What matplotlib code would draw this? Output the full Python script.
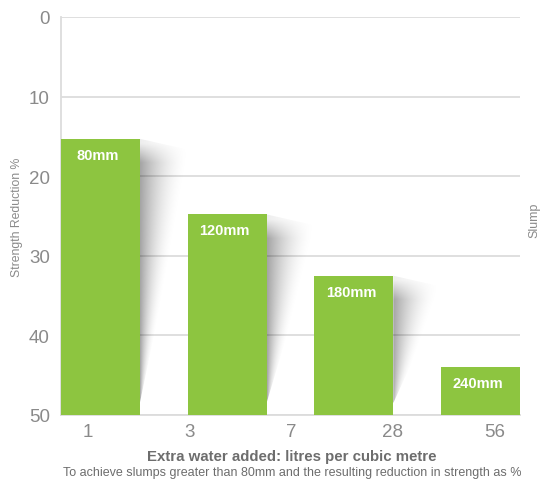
import numpy as np
import matplotlib
matplotlib.use("Agg")
import matplotlib.pyplot as plt
from matplotlib.patches import Polygon

plt.rcParams['font.family'] = ['Liberation Sans', 'DejaVu Sans']

# data
slumps = ["80mm", "120mm", "180mm", "240mm"]
reduction = [15.3, 24.8, 32.5, 44.0]
water_labels = ["1", "3", "7", "28", "56"]

green = "#8dc540"
grid_c = "#dcdcdc"
text_c = "#8a8a8a"

fig = plt.figure(figsize=(5.41, 4.81), dpi=100)
ax = fig.add_axes([61 / 541, 65 / 481, 459 / 541, 398 / 481])

w = 0.622
x = np.arange(len(slumps))
base = 50

# soft shadows to the right of each bar
for xi, val in zip(x, reduction):
    xr = xi + w / 2
    sw = 0.42
    drop = 1.5
    poly = [(xr, val), (xr + sw, val + drop), (xr, base - 1.5)]
    gx = np.linspace(xr, xr + sw, 120)
    gy = np.linspace(val, base, 200)
    GX, GY = np.meshgrid(gx, gy)
    frac_y = (GY - val) / (base - val)
    width_y = np.clip(sw * (1 - frac_y), 1e-3, None)
    a = np.clip(1 - (GX - xr) / width_y, 0, 1) ** 1.8
    a *= np.clip((GY - val) / 3.0, 0.2, 1)
    img = np.zeros(GX.shape + (4,))
    img[..., 3] = 0.36 * a
    im = ax.imshow(img, extent=(xr, xr + sw, base, val), origin="upper",
                   aspect="auto", interpolation="bilinear", zorder=1.5)
    clip = Polygon(poly, closed=True, transform=ax.transData, facecolor="none",
                   edgecolor="none")
    ax.add_patch(clip)
    im.set_clip_path(clip)

ax.bar(x, [r - base for r in reduction], bottom=base, width=w, color=green,
       zorder=3)

for xi, val, lab in zip(x, reduction, slumps):
    ax.text(xi - 0.02, val + 2.0, lab, color="white", fontsize=10.5,
            fontweight="bold", ha="center", va="center", zorder=4)

ax.set_ylim(50, 0)
ax.set_xlim(-w / 2, len(slumps) - 1 + w / 2)
ax.set_yticks(range(0, 51, 10))
ax.yaxis.grid(True, color=grid_c, linewidth=1.3, zorder=0)
ax.set_axisbelow(True)
ax.tick_params(axis="y", length=0, pad=8, labelsize=13.5, labelcolor=text_c)

ax.set_xticks(np.linspace(-0.1, 3.11, len(water_labels)))
ax.set_xticklabels(water_labels)
ax.tick_params(axis="x", length=0, pad=6, labelsize=13.5, labelcolor=text_c)

for s in ["top", "right"]:
    ax.spines[s].set_visible(False)
ax.spines["left"].set_color(grid_c)
ax.spines["bottom"].set_color(grid_c)
ax.spines["left"].set_linewidth(1.3)
ax.spines["bottom"].set_linewidth(1.3)

ax.set_ylabel("Strength Reduction %", fontsize=8.8, color=text_c, labelpad=4)

fig.text(534 / 541, 1 - 220 / 481, "Slump", rotation=90, fontsize=9,
         color=text_c, ha="center", va="center")
fig.text(292 / 541, 1 - 457 / 481, "Extra water added: litres per cubic metre",
         fontsize=10.8, fontweight="bold", color="#6d6d6d", ha="center",
         va="center")
fig.text(292 / 541, 1 - 473 / 481,
         "To achieve slumps greater than 80mm and the resulting reduction in strength as %",
         fontsize=9, color="#6d6d6d", ha="center", va="center")

fig.savefig("out.png", dpi=100)
